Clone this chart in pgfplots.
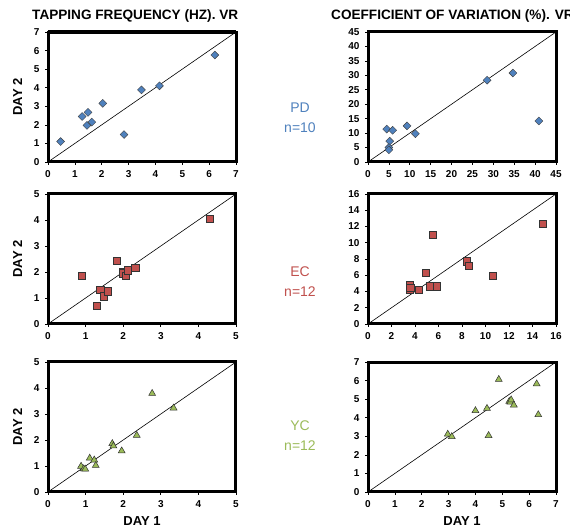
\documentclass[border=0pt]{standalone}
\usepackage{fontspec}
\setmainfont{Liberation Sans}
\usepackage{pgfplots}
\pgfplotsset{compat=1.18}

\definecolor{pdblue}{RGB}{79,129,189}
\definecolor{ecred}{RGB}{192,80,77}
\definecolor{ycgreen}{RGB}{155,187,89}

\pgfplotsset{
  panel/.style={
    scale only axis, width=188pt, height=130pt,
    anchor=south west,
    xmin=0, ymin=0, clip=false,
    axis line style={line width=3pt},
    every outer x axis line/.append style={line width=3pt},
    every outer y axis line/.append style={line width=3pt},
    separate axis lines,
    tick align=outside, major tick length=3pt,
    tick style={black, line width=0.6pt},
    xtick pos=bottom, ytick pos=left,
    /pgf/number format/assume math mode=true,
    tick label style={font=\bfseries\fontsize{10}{12}\selectfont},
    xticklabel style={yshift=-2pt},
    yticklabel style={xshift=-2pt},
    ylabel style={font=\bfseries\fontsize{13}{15}\selectfont, yshift=5pt},
    xlabel style={font=\bfseries\fontsize{13}{15}\selectfont, yshift=-2pt},
  },
  pdmark/.style={only marks, mark=square*, mark size=2.8pt,
    mark options={fill=pdblue, draw=black!75, line width=0.4pt, rotate=45}},
  ecmark/.style={only marks, mark=square*, mark size=3.6pt,
    mark options={fill=ecred, draw=black!80, line width=0.5pt}},
  ycmark/.style={only marks, mark=triangle*, mark size=4pt,
    mark options={fill=ycgreen, draw=black!80, line width=0.5pt}},
  identity/.style={black, line width=0.6pt},
}

% Tapping frequency (Hz), day 1 vs day 2
\pgfplotstableread{
d1 d2
0.47 1.10
1.27 2.45
1.49 2.67
1.45 1.97
1.63 2.15
2.04 3.16
2.83 1.48
3.48 3.88
4.15 4.10
6.21 5.76
}\tfPD
\pgfplotstableread{
d1 d2
0.89 1.85
1.29 0.71
1.39 1.31
1.49 1.07
1.58 1.26
1.83 2.42
1.98 1.99
2.00 1.95
2.06 1.85
2.12 2.07
2.32 2.17
4.31 4.05
}\tfEC
\pgfplotstableread{
d1 d2
0.88 0.99
0.95 0.89
0.99 0.88
1.11 1.30
1.23 1.23
1.27 1.02
1.71 1.86
1.74 1.77
1.96 1.58
2.36 2.18
2.77 3.79
3.34 3.23
}\tfYC

% Coefficient of variation (%), day 1 vs day 2
\pgfplotstableread{
d1 d2
4.48 11.4
5.90 10.96
5.20 7.2
5.00 5.0
5.00 4.2
9.35 12.5
11.35 9.8
28.5 28.3
34.7 30.8
40.9 14.2
}\cvPD
\pgfplotstableread{
d1 d2
3.55 4.81
3.55 4.20
3.60 4.45
4.29 4.20
4.89 6.33
5.48 10.98
5.26 4.65
5.85 4.65
8.41 7.73
8.58 7.16
10.63 5.96
14.89 12.34
}\cvEC
\pgfplotstableread{
d1 d2
2.97 3.11
3.12 2.98
4.00 4.38
4.43 4.50
4.49 3.04
4.87 6.06
5.26 4.88
5.30 4.84
5.33 4.96
5.43 4.68
6.28 5.82
6.34 4.16
}\cvYC

\begin{document}
\begin{tikzpicture}
\useasboundingbox (0pt,0pt) rectangle (570pt,529pt);

% ---- row 1: PD ----
\begin{axis}[panel, name=p1, at={(48pt,367pt)}, xmax=7, ymax=7,
  xtick={0,...,7}, ytick={0,...,7}, ylabel={DAY 2}]
  \addplot[identity] coordinates {(0,0) (7,7)};
  \addplot[pdmark] table[x=d1,y=d2] {\tfPD};
\end{axis}
\begin{axis}[panel, name=p2, at={(368pt,367pt)}, xmax=45, ymax=45,
  xtick={0,5,...,45}, ytick={0,5,...,45}]
  \addplot[identity] coordinates {(0,0) (45,45)};
  \addplot[pdmark] table[x=d1,y=d2] {\cvPD};
\end{axis}

% ---- row 2: EC ----
\begin{axis}[panel, name=p3, at={(48pt,205pt)}, xmax=5, ymax=5,
  xtick={0,...,5}, ytick={0,...,5}, ylabel={DAY 2}]
  \addplot[identity] coordinates {(0,0) (5,5)};
  \addplot[ecmark] table[x=d1,y=d2] {\tfEC};
\end{axis}
\begin{axis}[panel, name=p4, at={(368pt,205pt)}, xmax=16, ymax=16,
  xtick={0,2,...,16}, ytick={0,2,...,16}]
  \addplot[identity] coordinates {(0,0) (16,16)};
  \addplot[ecmark] table[x=d1,y=d2] {\cvEC};
\end{axis}

% ---- row 3: YC ----
\begin{axis}[panel, name=p5, at={(48pt,37pt)}, xmax=5, ymax=5,
  xtick={0,...,5}, ytick={0,...,5}, ylabel={DAY 2}, xlabel={DAY 1}]
  \addplot[identity] coordinates {(0,0) (5,5)};
  \addplot[ycmark] table[x=d1,y=d2] {\tfYC};
\end{axis}
\begin{axis}[panel, name=p6, at={(368pt,37pt)}, xmax=7, ymax=7,
  xtick={0,...,7}, ytick={0,...,7}, xlabel={DAY 1}]
  \addplot[identity] coordinates {(0,0) (7,7)};
  \addplot[ycmark] table[x=d1,y=d2] {\cvYC};
\end{axis}

% heavy frames round each panel
\foreach \p in {p1,p2,p3,p4,p5,p6}
  \draw[line width=3pt, black, line join=miter] (\p.south west) rectangle (\p.north east);

% column titles
\node[anchor=base west, font=\bfseries\fontsize{13.6}{15}\selectfont, inner sep=0pt]
  at (32pt,509pt) {TAPPING FREQUENCY (HZ). VR};
\node[anchor=base west, font=\bfseries\fontsize{13.6}{15}\selectfont, inner sep=0pt]
  at (331pt,509pt) {COEFFICIENT OF VARIATION (\%). VR};

% group labels
\node[font=\fontsize{14}{20}\selectfont, text=pdblue, align=center] at (300pt,411pt) {PD\\n=10};
\node[font=\fontsize{14}{20}\selectfont, text=ecred, align=center] at (300pt,247pt) {EC\\n=12};
\node[font=\fontsize{14}{20}\selectfont, text=ycgreen, align=center] at (300pt,93pt) {YC\\n=12};
\end{tikzpicture}
\end{document}
